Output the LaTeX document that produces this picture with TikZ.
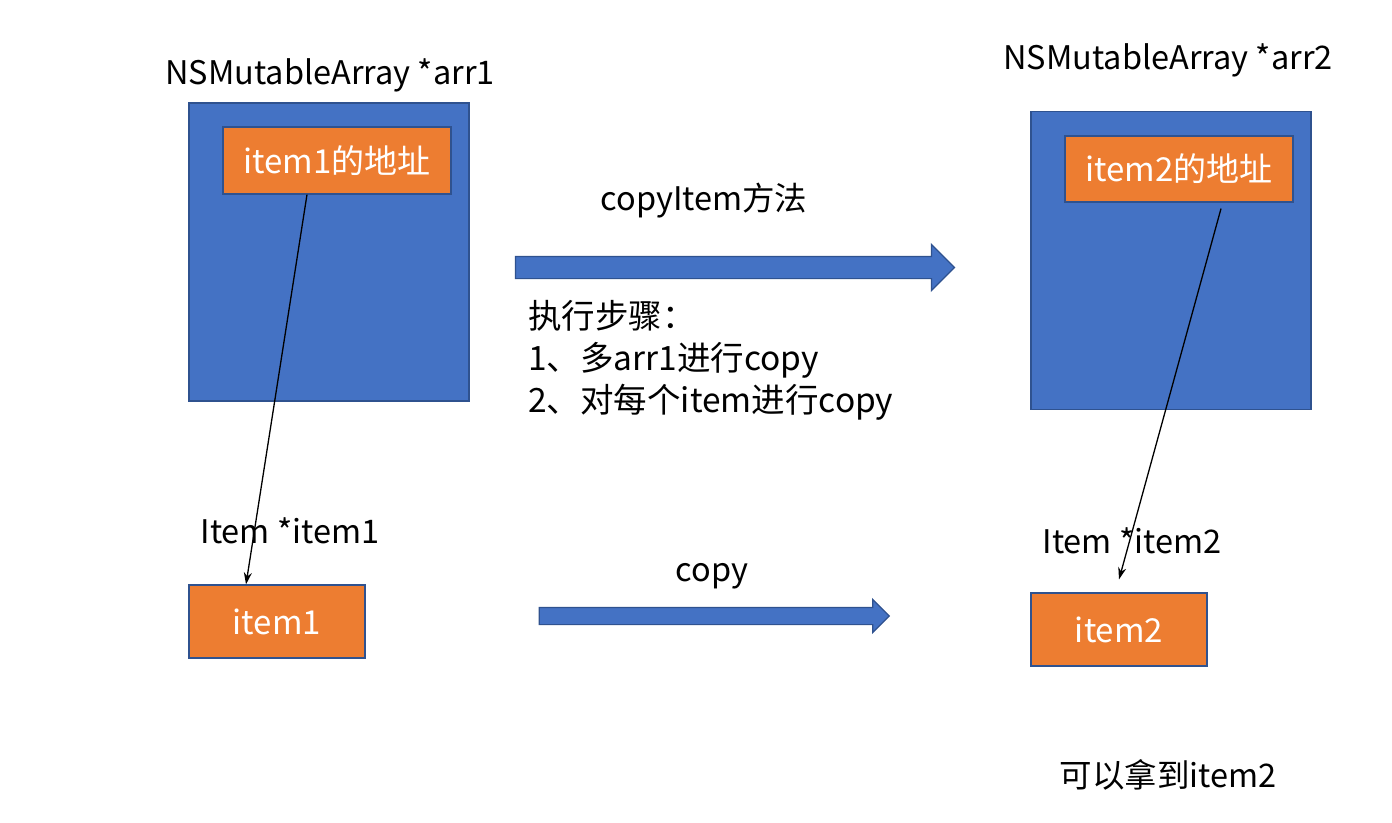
\documentclass[tikz,border=0pt]{standalone}
\usepackage{fontspec}
\setmainfont{Noto Sans CJK SC}
\usetikzlibrary{positioning, shapes.arrows, arrows.meta}
\definecolor{boxblue}{HTML}{4472C4}
\definecolor{edgeblue}{HTML}{2F528F}
\definecolor{boxorange}{HTML}{ED7D31}

\begin{document}
\begin{tikzpicture}[x=1pt, y=-1pt,
		array/.style={draw=edgeblue, fill=boxblue, line width=1.2pt, minimum width=280pt, minimum height=298pt, inner sep=0pt},
		cell/.style={draw=edgeblue, fill=boxorange, line width=1.2pt, text=white, font=\fontsize{33}{38}\selectfont, inner sep=0pt},
		caption/.style={font=\fontsize{32.5}{42}\selectfont, inner sep=0pt},
		pipe/.style={single arrow, draw=edgeblue, fill=boxblue, line width=1.2pt, single arrow head indent=0pt},
		ptr/.style={-{Stealth[length=12pt, width=8pt]}, line width=1.3pt}]
		\useasboundingbox (0,0) rectangle (1392,822);
		
		\node[array] (arr1) at (329,252) {};
		\node[array] (arr2) at (1171,260.5) {};
		\node[cell, minimum width=228pt, minimum height=67pt] (addr1) at (337,160.5) {item1的地址};
		\node[cell, minimum width=228pt, minimum height=66pt] (addr2) at (1179,169) {item2的地址};
		\node[cell, minimum width=176pt, minimum height=73pt] (item1) at (277,621.5) {item1};
		\node[cell, minimum width=176pt, minimum height=73pt] (item2) at (1119,629.5) {item2};
		
		\node[caption] (arr1 name)  at (330,75)  {NSMutableArray *arr1};
		\node[caption] (arr2 name)  at (1168,60) {NSMutableArray *arr2};
		\node[caption] (item1 name) at (290,531) {Item *item1};
		\node[caption] (item2 name) at (1132,541) {Item *item2};
		\node[caption] (method)     at (704,201) {copyItem方法};
		\node[caption] (copy)       at (712,576) {copy};
		\node[caption] (result)     at (1168,775) {可以拿到item2};
		\node[caption, align=left, anchor=west, font=\fontsize{33.5}{42}\selectfont] (steps) at (528,360)
			{执行步骤：\\1、多arr1进行copy\\2、对每个item进行copy};
		
		\node[pipe, minimum height=439pt, minimum width=45pt, inner sep=10.5pt, single arrow head extend=12pt] (deep) at (729.5,267.5) {};
		\node[pipe, minimum height=350pt, minimum width=32pt, inner sep=8pt, single arrow head extend=8pt] (shallow) at (710,616) {};
		
		\draw[ptr] ([xshift=-30pt]addr1.south) -- ([xshift=-31pt]item1.north);
		\draw[ptr] ([xshift=42pt, yshift=-6pt]addr2.south) -- ([yshift=13pt]item2.north);
	\end{tikzpicture}
\end{document}
